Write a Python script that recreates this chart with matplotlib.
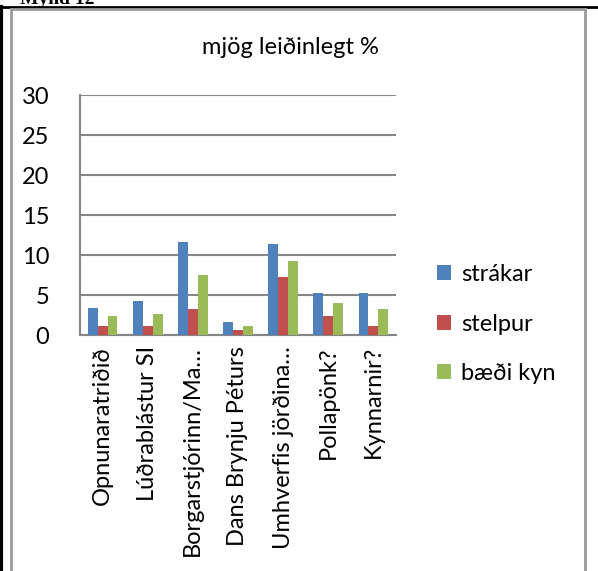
import numpy as np
import matplotlib.pyplot as plt
from matplotlib.lines import Line2D

categories = ["Opnunaratriðið", "Lúðrablástur SI", "Borgarstjórinn/Ma…",
              "Dans Brynju Péturs", "Umhverfis jörðina…", "Pollapönk?", "Kynnarnir?"]
strakar = [3.4, 4.3, 11.6, 1.6, 11.4, 5.3, 5.3]
stelpur = [1.1, 1.1, 3.2, 0.6, 7.3, 2.4, 1.1]
baedi = [2.4, 2.6, 7.5, 1.1, 9.3, 4.0, 3.2]
series_names = ["strákar", "stelpur", "bæði kyn"]
colors = ["#4F81BD", "#C0504D", "#9BBB59"]

plt.rcParams["font.family"] = ["Lato", "DejaVu Sans"]

fig = plt.figure(figsize=(5.98, 5.71), dpi=100)
ax = fig.add_axes([80 / 598, 1 - 335 / 571, 316 / 598, 240 / 571])

x = np.arange(len(categories))
w = 0.22
for i, (vals, name, c) in enumerate(zip([strakar, stelpur, baedi], series_names, colors)):
    ax.bar(x + (i - 1) * w, vals, w, color=c, label=name, zorder=3)

ax.set_xlim(-0.5, len(categories) - 0.5)
ax.set_ylim(0, 30)
ax.set_yticks(range(0, 31, 5))
ax.yaxis.grid(True, color="#868686", linewidth=1.5, zorder=0)
ax.tick_params(axis="y", length=0, labelsize=17, pad=22)
ax.set_xticks(x)
ax.set_xticklabels(categories, rotation=90, fontsize=17)
ax.tick_params(axis="x", length=0, pad=8)
for s in ["top", "right"]:
    ax.spines[s].set_visible(False)
for s in ["left", "bottom"]:
    ax.spines[s].set_color("#868686")
    ax.spines[s].set_linewidth(1.5)

fig.text(290 / 598, 1 - 48 / 571, "mjög leiðinlegt %", ha="center", va="center", fontsize=17)

fig.legend(loc="upper left", bbox_to_anchor=(416 / 598, 1 - 243 / 571), frameon=False,
           fontsize=17, handlelength=0.6, handleheight=0.6, handletextpad=0.4,
           labelspacing=1.2)

# document frame
fig.add_artist(Line2D([0, 1], [1 - 7 / 571, 1 - 7 / 571], color="black", lw=2))
fig.add_artist(Line2D([1 / 598, 1 / 598], [0, 1 - 7 / 571], color="black", lw=3))
fig.add_artist(Line2D([11 / 598, 11 / 598], [0, 1 - 9 / 571], color="#9a9a9a", lw=2))
fig.add_artist(Line2D([585 / 598, 585 / 598], [0, 1 - 9 / 571], color="#9a9a9a", lw=2))
fig.add_artist(Line2D([11 / 598, 585 / 598], [1 - 9 / 571, 1 - 9 / 571], color="#9a9a9a", lw=2))
fig.text(20 / 598, 1 - 4 / 571, "Mynd 12", fontsize=14, fontweight="bold",
         family="Liberation Serif", va="baseline")

fig.savefig("out.png", dpi=100)
